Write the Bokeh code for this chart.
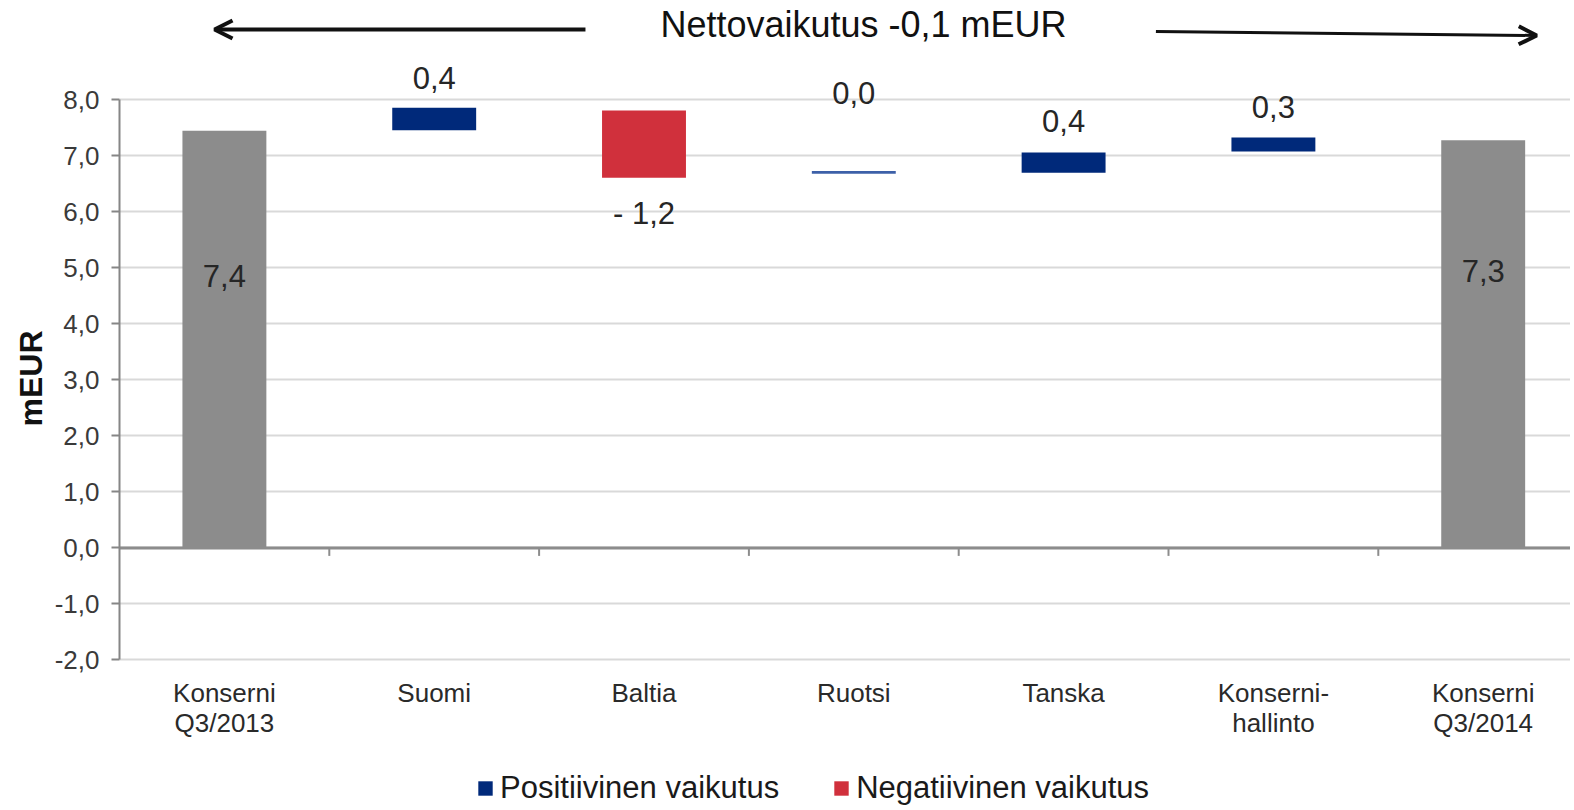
from bokeh.plotting import figure
from bokeh.models import (Range1d, FixedTicker, Legend, LegendItem, Arrow, OpenHead,
                          Label, Title, ColumnDataSource)
from bokeh.core.properties import value
from bokeh.embed import file_html
from bokeh.resources import INLINE

# ---------------- data ----------------
categories = ["Konserni\nQ3/2013", "Suomi", "Baltia", "Ruotsi", "Tanska",
              "Konserni-\nhallinto", "Konserni\nQ3/2014"]
kinds = ["total", "pos", "neg", "pos", "pos", "pos", "total"]
bar_bottom = [0.0, 7.46, 6.61, 6.68, 6.70, 7.08, 0.0]
bar_top = [7.45, 7.86, 7.81, 6.73, 7.06, 7.33, 7.28]
value_labels = ["7,4", "0,4", "- 1,2", "0,0", "0,4", "0,3", "7,3"]
y_ticks = [-2, -1, 0, 1, 2, 3, 4, 5, 6, 7, 8]
title_text = "Nettovaikutus -0,1 mEUR"
legend_labels = ["Positiivinen vaikutus", "Negatiivinen vaikutus"]
y_label = "mEUR"

# ---------------- layout ----------------
W, H = 1570, 806
LEFT = 119
CAT_PX = 209.8
PX_PER_UNIT = 56.0
x_end = (W - LEFT) / CAT_PX
y_max = 8 + 99.4 / PX_PER_UNIT
y_min = y_max - H / PX_PER_UNIT
label_y = [4.86, 8.39, 5.97, 8.12, 7.63, 7.87, 4.95]
cat_label_y = -2.0 - 18 / PX_PER_UNIT

FONT = "Liberation Sans"
GREY, NAVY, RED, THIN = "#8c8c8c", "#00297a", "#d0303c", "#3d60a8"

n = len(categories)
centers = [i + 0.5 for i in range(n)]
colors = [GREY if k == "total" else (RED if k == "neg" else NAVY) for k in kinds]
colors[3] = THIN  # Ruotsi shown as thin lighter line

p = figure(width=W, height=H, output_backend="svg", toolbar_location=None,
           x_range=Range1d(0, x_end), y_range=Range1d(y_min, y_max),
           x_axis_location=None,
           min_border_left=LEFT, min_border_right=0, min_border_top=0,
           min_border_bottom=0, outline_line_color=None,
           background_fill_color="white", border_fill_color="white")

def sel(kind):
    idx = [i for i, k in enumerate(kinds) if k == kind]
    return ColumnDataSource(dict(x=[centers[i] for i in idx],
                                 b=[bar_bottom[i] for i in idx],
                                 t=[bar_top[i] for i in idx],
                                 c=[colors[i] for i in idx]))

# grid
p.xgrid.visible = False
p.ygrid.ticker = FixedTicker(ticks=y_ticks)
p.ygrid.grid_line_color = "#d9d9d9"
p.ygrid.grid_line_width = 2

bw = 0.40
r_tot = p.vbar(x="x", bottom="b", top="t", width=bw, fill_color="c", line_color=None, source=sel("total"))
r_pos = p.vbar(x="x", bottom="b", top="t", width=bw, fill_color="c", line_color=None, source=sel("pos"))
r_neg = p.vbar(x="x", bottom="b", top="t", width=bw, fill_color="c", line_color=None, source=sel("neg"))

# value labels
p.text(x=centers, y=label_y, text=value_labels, text_align="center", text_baseline="middle",
       text_font=value(FONT), text_font_size="31px", text_color="#262626")

# category labels
p.text(x=centers, y=[cat_label_y] * n, text=categories, text_align="center", text_baseline="top",
       text_font=value(FONT), text_font_size="26px", text_color="#2a2a2a", text_line_height=1.0)

# zero line with category boundary ticks
p.segment(x0=[0], y0=[0], x1=[x_end], y1=[0], line_color="#8c8c8c", line_width=3)
bx = list(range(1, n))
p.segment(x0=bx, y0=[0] * len(bx), x1=bx, y1=[-8 / PX_PER_UNIT] * len(bx),
          line_color="#8c8c8c", line_width=2)

# y axis
ya = p.yaxis[0]
ya.ticker = FixedTicker(ticks=y_ticks)
ya.bounds = (-2, 8)
ya.major_label_overrides = {t: f"{t:.1f}".replace(".", ",") for t in y_ticks}
ya.major_label_text_font = FONT
ya.major_label_text_font_size = "26px"
ya.major_label_text_color = "#3a3a3a"
ya.major_label_standoff = 12
ya.major_tick_out = 8
ya.major_tick_in = 0
ya.minor_tick_out = 0
ya.minor_tick_in = 0
ya.major_tick_line_color = "#868686"
ya.major_tick_line_width = 2
ya.axis_line_color = "#868686"
ya.axis_line_width = 2

# y axis title, placed level with the middle of the -2..8 span
p.add_layout(Title(text=y_label, align="left", offset=380, standoff=6,
                   text_font=FONT, text_font_style="bold", text_font_size="32px",
                   text_color="#111111"), "left")

# title and arrows
p.add_layout(Label(x=3.546, y=9.346, text=title_text, text_align="center", text_baseline="middle",
                   text_font=FONT, text_font_size="36px", text_color="#111111"))
p.add_layout(Arrow(end=OpenHead(size=18, line_width=4, line_color="#111111"),
                   x_start=2.221, y_start=9.257, x_end=0.453, y_end=9.257,
                   line_width=4, line_color="#111111"))
p.add_layout(Arrow(end=OpenHead(size=18, line_width=4, line_color="#111111"),
                   x_start=4.94, y_start=9.22, x_end=6.755, y_end=9.15,
                   line_width=3, line_color="#111111"))

# legend
legend = Legend(items=[LegendItem(label=legend_labels[0], renderers=[r_pos], index=0),
                       LegendItem(label=legend_labels[1], renderers=[r_neg])],
                orientation="horizontal", location=(357, 0),
                label_text_font=FONT, label_text_font_size="31px", label_text_color="#1a1a1a",
                glyph_width=18, glyph_height=18, label_standoff=6, spacing=53,
                padding=0, margin=0, border_line_color=None, background_fill_alpha=0)
p.add_layout(legend, "center")

open("out.html", "w").write(file_html(p, INLINE))
